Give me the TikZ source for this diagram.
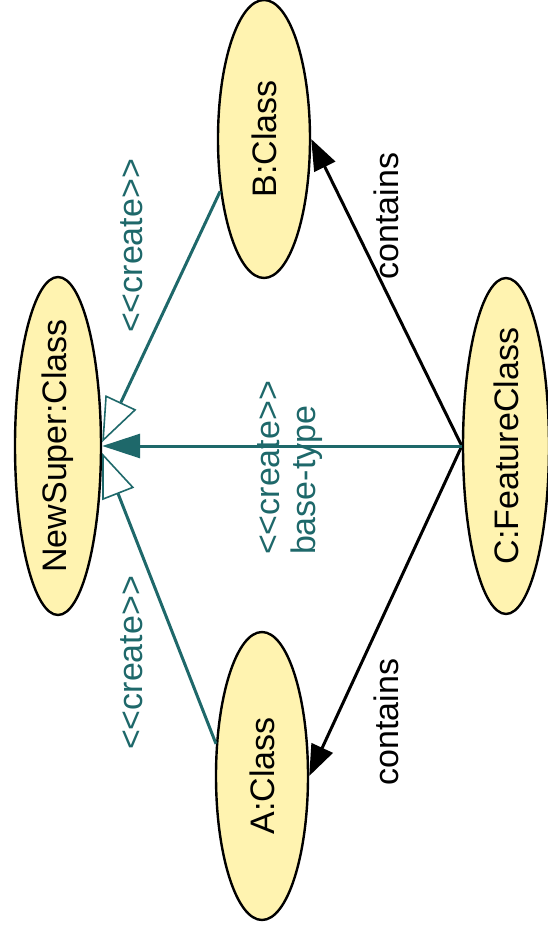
\documentclass[tikz,border=0pt]{standalone}
\usepackage{fontspec}
\setmainfont{Liberation Sans}
\usetikzlibrary{shapes.geometric,arrows.meta}
\definecolor{classyellow}{RGB}{255,243,176}
\definecolor{createteal}{RGB}{30,104,106}
\tikzset{
  obj/.style={ellipse,draw,line width=2.4pt,fill=classyellow,inner sep=0pt,font=\fontsize{34}{36}\selectfont},
  vtext/.style={rotate=90,inner sep=0pt,font=\fontsize{34}{36}\selectfont},
  create/.style={draw=createteal,line width=3pt,-{Triangle[fill=white,length=44pt,width=34pt,line width=1.6pt]}},
  basetype/.style={draw=createteal,line width=3pt,-{Triangle[length=38pt,width=24pt]}},
  contain/.style={draw=black,line width=3pt,-{Triangle[length=31pt,width=23pt]}}
}
\newcommand{\objname}[1]{\rotatebox{90}{\makebox[0pt]{#1}}}

\begin{document}
\begin{tikzpicture}[x=1pt,y=-1pt]
\useasboundingbox (0,0) rectangle (548,931);

% objects
\node[obj,minimum width=86pt,minimum height=338pt] (nsc) at (58,446) {\objname{NewSuper:Class}};
\node[obj,minimum width=92pt,minimum height=278pt] (b) at (264,139) {\objname{B:Class}};
\node[obj,minimum width=92pt,minimum height=288pt] (a) at (262,776) {\objname{A:Class}};
\node[obj,minimum width=86pt,minimum height=336pt] (c) at (506,446) {\objname{C:FeatureClass}};

% links
\draw[contain] (c.west) -- (b.east);
\draw[contain] (c.west) -- (a.east);
\draw[create] (b.230) -- (nsc.5);
\draw[create] (a.145) -- (nsc.-9);
\draw[basetype] (c.west) -- (nsc.east);

% labels
\node[vtext,text=createteal] (cr1) at (132,246) {{<}{<}create{>}{>}};
\node[vtext,text=createteal] (cr2) at (132,663) {{<}{<}create{>}{>}};
\node[vtext,text=createteal,align=left] (cr3) at (290,468) {{<}{<}create{>}{>}\\base-type};
\node[vtext] (con1) at (386,216) {contains};
\node[vtext] (con2) at (386,722) {contains};
\end{tikzpicture}
\end{document}
